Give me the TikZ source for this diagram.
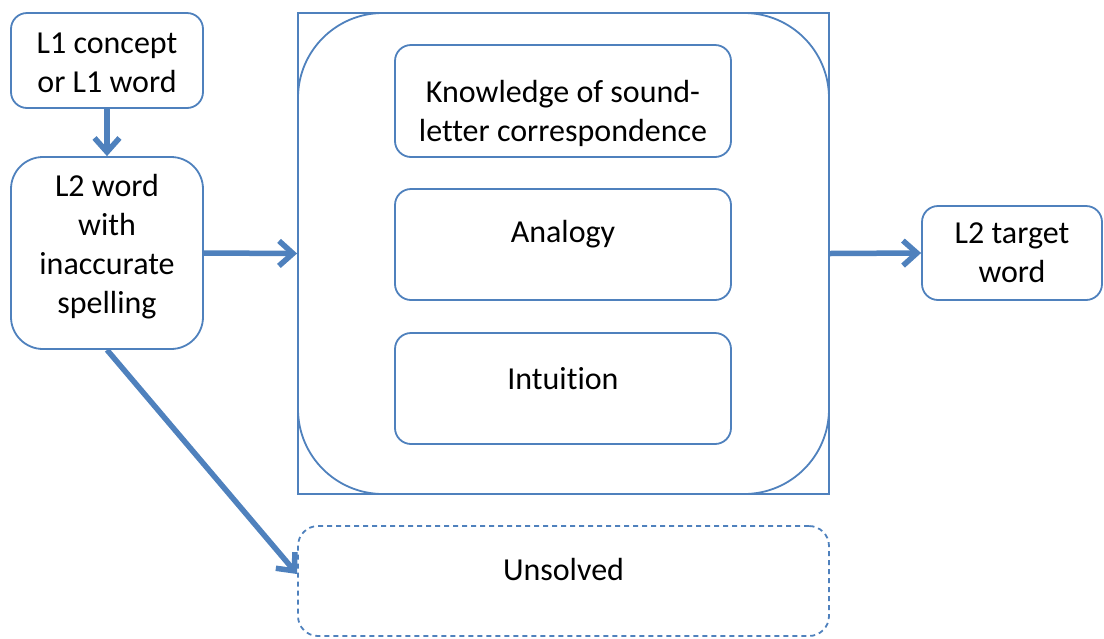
\documentclass[tikz,border=0pt]{standalone}
\usepackage{fontspec}
\setmainfont[Ligatures=NoCommon]{Carlito}
\usetikzlibrary{arrows.meta}
\definecolor{officeblue}{HTML}{4F81BD}
% invisible strut: height #1pt above and depth #2pt below the baseline
\newcommand{\lstrut}[2]{\rule[-#2pt]{0pt}{\dimexpr #1pt + #2pt\relax}}
\newcommand{\stdline}{\lstrut{29}{10}}
\begin{document}
\begin{tikzpicture}[x=1pt,y=-1pt,
  every node/.style={font=\fontsize{32}{39}\selectfont, align=center, inner sep=0pt},
  box/.style={draw=officeblue, line width=1.8pt, fill=white, rounded corners=#1},
  box/.default=16pt,
  flow/.style={draw=officeblue, line width=5.5pt,
    -{Straight Barb[length=14pt,width=25pt,line width=5.5pt]}},
]
\useasboundingbox (0,0) rectangle (1104,638);

% left column
\node[box=16pt, minimum width=192pt, minimum height=95pt] (l1) at (107,60.5)
  {\lstrut{34}{10}L1 concept\\\stdline or L1 word};
\node[box=32pt, minimum width=192pt, minimum height=192pt] (l2) at (107,253)
  {\stdline L2 word\\\stdline with\\\stdline inaccurate\\\lstrut{29}{26}spelling};

% central frame with the three strategies
\node[draw=officeblue, line width=1.8pt, minimum width=531pt, minimum height=481pt] (frame) at (563.5,253.5) {};
\node[box=85pt, minimum width=531pt, minimum height=481pt] (core) at (563.5,253.5) {};
\node[box=16pt, minimum width=336pt, minimum height=112pt] (know) at (563,101)
  {\lstrut{51}{10}Knowledge of sound-\\\stdline letter correspondence};
\node[box=16pt, minimum width=336pt, minimum height=111pt] (analogy) at (563,244.5)
  {\lstrut{29}{34}Analogy};
\node[box=16pt, minimum width=336pt, minimum height=111pt] (intuition) at (563,388.5)
  {\lstrut{29}{28}Intuition};

% outcomes
\node[box=16pt, minimum width=180pt, minimum height=94pt] (target) at (1012,253)
  {\stdline L2 target\\\stdline word};
\node[box=20pt, dashed, dash pattern=on 5pt off 4pt, minimum width=531pt, minimum height=110pt] (unsolved) at (563.5,581)
  {\lstrut{29}{31}Unsolved};

% connectors
\draw[flow] (l1.south) -- (l2.north);
\draw[flow] (l2.east) -- (frame.west);
\draw[flow] (frame.east) -- (target.west);
\draw[flow] (l2.south) -- ([yshift=7pt]unsolved.west);
\end{tikzpicture}
\end{document}
